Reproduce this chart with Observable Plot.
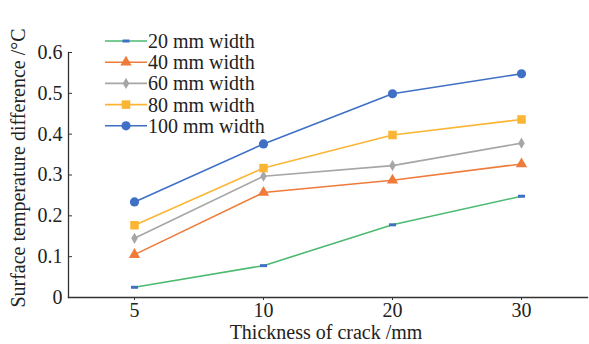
<!DOCTYPE html>
<html>
<head>
<meta charset="utf-8">
<script src="https://cdn.jsdelivr.net/npm/d3@7"></script>
<script src="https://cdn.jsdelivr.net/npm/@observablehq/plot@0.6"></script>
<style>
  html, body { margin: 0; padding: 0; background: #fff; }
  #chart { position: relative; width: 589px; height: 344px; }
  #chart svg, #chart svg text { font-family: "Liberation Serif", "DejaVu Serif", serif; }
</style>
</head>
<body>
<div id="chart"></div>
<script>
const thickness = [5, 10, 20, 30];
const seriesNames = ["20 mm width", "40 mm width", "60 mm width", "80 mm width", "100 mm width"];
const w20  = [0.025, 0.078, 0.178, 0.248];
const w40  = [0.105, 0.257, 0.287, 0.327];
const w60  = [0.145, 0.297, 0.323, 0.378];
const w80  = [0.177, 0.317, 0.398, 0.436];
const w100 = [0.234, 0.376, 0.499, 0.548];
const yTicks = [0, 0.1, 0.2, 0.3, 0.4, 0.5, 0.6];
const yTickLabels = ["0", "0.1", "0.2", "0.3", "0.4", "0.5", "0.6"];

const serif = "'Liberation Serif', 'DejaVu Serif', serif";
const lineColors = ["#4dba72", "#ee7b3a", "#a6a6a6", "#fbb535", "#3f70c6"];
const markerColors = ["#3f70c6", "#ee7b3a", "#a6a6a6", "#fbb535", "#3f70c6"];
const dash = {draw(ctx, size) { ctx.rect(-3.5, -1.5, 7, 3); }};
const symbols = [dash, "triangle", "diamond", "square", "circle"];
const rs = [3, 4.2, 3.4, 4.8, 4.6];

const allValues = [w20, w40, w60, w80, w100];
const rows = [];
allValues.forEach((vals, s) => vals.forEach((v, i) => rows.push({series: seriesNames[s], s, x: thickness[i], y: v})));

const marks = [
  Plot.frame({anchor: "left", stroke: "#333", strokeWidth: 1.3}),
  Plot.frame({anchor: "bottom", stroke: "#333", strokeWidth: 1.3}),
  Plot.axisY(yTicks, {tickSize: 0, tickPadding: 6, tickFormat: (d, i) => yTickLabels[i], fontSize: 20, fontFamily: serif, fontVariant: "normal", fill: "#222", label: null}),
  Plot.axisY(yTicks, {tickSize: -4, tickFormat: () => "", stroke: "#333", label: null}),
  Plot.axisX(thickness, {tickSize: 3, tickPadding: 2, fontSize: 20, fontFamily: serif, fontVariant: "normal", fill: "#222", label: null, stroke: "#333"}),
];
seriesNames.forEach((name, s) => {
  const data = rows.filter(d => d.s === s);
  marks.push(Plot.line(data, {x: "x", y: "y", stroke: lineColors[s], strokeWidth: 1.6}));
  marks.push(Plot.dot(data, {x: "x", y: "y", symbol: () => symbols[s], r: rs[s], fill: markerColors[s], stroke: "none"}));
});

const plot = Plot.plot({
  width: 589,
  height: 344,
  marginLeft: 68,
  marginRight: 2,
  marginTop: 52,
  marginBottom: 47,
  style: {fontFamily: serif, fontSize: "20px", background: "#fff"},
  x: {type: "point", domain: thickness, padding: 0.5, axis: null},
  y: {domain: [0, 0.6], axis: null},
  marks
});
document.getElementById("chart").appendChild(plot);

// axis titles and legend
const svg = d3.select(plot);
svg.append("text")
  .attr("x", 326).attr("y", 339)
  .attr("text-anchor", "middle")
  .attr("font-size", 20).attr("fill", "#222")
  .text("Thickness of crack /mm");
svg.append("text")
  .attr("transform", "translate(25,168) rotate(-90)")
  .attr("text-anchor", "middle")
  .attr("font-size", 20).attr("fill", "#222")
  .text("Surface temperature difference /°C");

const lg = svg.append("g");
seriesNames.forEach((name, s) => {
  const y = 41 + s * 21.2;
  const g = lg.append("g");
  g.append("line").attr("x1", 105).attr("x2", 147).attr("y1", y).attr("y2", y)
    .attr("stroke", lineColors[s]).attr("stroke-width", 1.6);
  const sym = typeof symbols[s] === "string"
    ? ({triangle: d3.symbolTriangle, diamond: d3.symbolDiamond, square: d3.symbolSquare, circle: d3.symbolCircle})[symbols[s]]
    : symbols[s];
  g.append("path").attr("transform", `translate(126,${y})`)
    .attr("d", d3.symbol(sym, Math.PI * rs[s] * rs[s])())
    .attr("fill", markerColors[s]);
  g.append("text").attr("x", 148).attr("y", y).attr("dy", "0.35em")
    .attr("text-anchor", "start")
    .attr("font-size", 20).attr("fill", "#222").text(name);
});
</script>
</body>
</html>
